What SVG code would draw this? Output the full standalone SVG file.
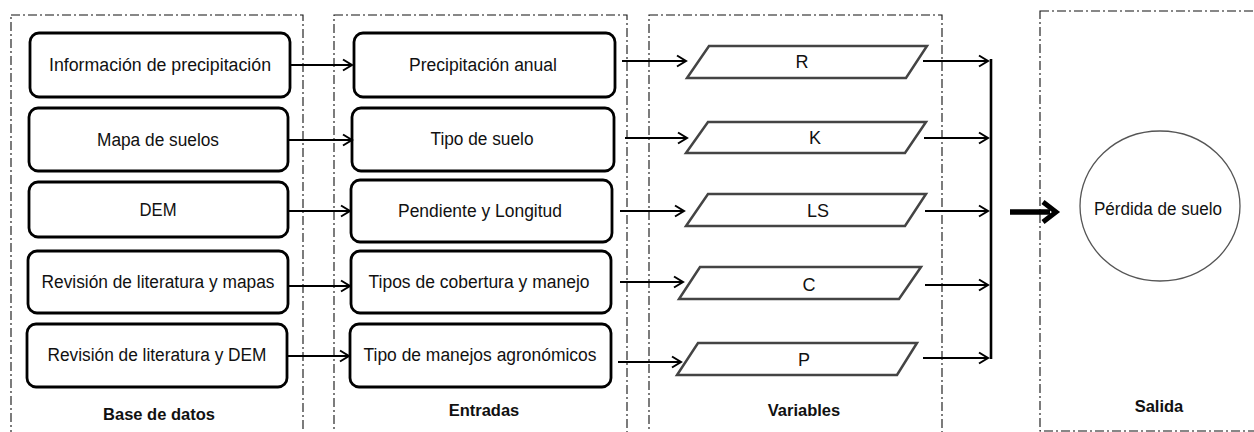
<svg xmlns="http://www.w3.org/2000/svg" width="1254" height="432" viewBox="0 0 1254 432">
<defs>
<style>
.frame{fill:none;stroke:#111;stroke-width:1.1;stroke-dasharray:9,3,2,3}
.box{fill:#fff;stroke:#000;stroke-width:2.8}
.para{fill:#fff;stroke:#444;stroke-width:2.5}
.t{font-family:"Liberation Sans",Arial,sans-serif;font-size:18px;fill:#111;text-anchor:middle;dominant-baseline:central}
.lbl{font-family:"Liberation Sans",Arial,sans-serif;font-size:16.5px;font-weight:bold;fill:#111;text-anchor:middle;dominant-baseline:central}
.arr{fill:none;stroke:#000;stroke-width:1.8;marker-end:url(#ah)}
</style>
<marker id="ah" markerUnits="userSpaceOnUse" markerWidth="14" markerHeight="14" viewBox="0 0 14 14" refX="12" refY="7" orient="auto">
<path d="M3,1.5 L12,7 L3,12.5" fill="none" stroke="#000" stroke-width="2"/>
</marker>
</defs>
<rect width="1254" height="432" fill="#fff"/>

<g id="frames">
<rect class="frame" x="11" y="15" width="292" height="430"/>
<rect class="frame" x="334" y="15" width="293" height="430"/>
<rect class="frame" x="649" y="15" width="293" height="430"/>
<rect class="frame" x="1040" y="11" width="230" height="420"/>
</g>

<g id="base">
<g id="b1"><rect class="box" x="30" y="33" width="260" height="64" rx="9"/><text class="t" x="160" y="65" textLength="222" lengthAdjust="spacingAndGlyphs">Información de precipitación</text></g>
<g id="b2"><rect class="box" x="29" y="108" width="259" height="63" rx="9"/><text class="t" x="158" y="140" textLength="122" lengthAdjust="spacingAndGlyphs">Mapa de suelos</text></g>
<g id="b3"><rect class="box" x="29" y="182" width="259" height="55" rx="9"/><text class="t" x="158" y="210" textLength="37" lengthAdjust="spacingAndGlyphs">DEM</text></g>
<g id="b4"><rect class="box" x="28" y="251" width="260" height="62" rx="9"/><text class="t" x="158" y="282" textLength="233" lengthAdjust="spacingAndGlyphs">Revisión de literatura y mapas</text></g>
<g id="b5"><rect class="box" x="27" y="324" width="260" height="63" rx="9"/><text class="t" x="157" y="355" textLength="219" lengthAdjust="spacingAndGlyphs">Revisión de literatura y DEM</text></g>
<text class="lbl" x="159" y="414">Base de datos</text>
</g>

<g id="entradas">
<g id="e1"><rect class="box" x="354" y="33" width="261" height="64" rx="9"/><text class="t" x="483" y="65" textLength="148" lengthAdjust="spacingAndGlyphs">Precipitación anual</text></g>
<g id="e2"><rect class="box" x="352" y="108" width="262" height="63" rx="9"/><text class="t" x="482" y="139" textLength="103" lengthAdjust="spacingAndGlyphs">Tipo de suelo</text></g>
<g id="e3"><rect class="box" x="351" y="180" width="261" height="62" rx="9"/><text class="t" x="480" y="211" textLength="164" lengthAdjust="spacingAndGlyphs">Pendiente y Longitud</text></g>
<g id="e4"><rect class="box" x="351" y="251" width="260" height="62" rx="9"/><text class="t" x="479" y="282" textLength="221" lengthAdjust="spacingAndGlyphs">Tipos de cobertura y manejo</text></g>
<g id="e5"><rect class="box" x="350" y="324" width="261" height="63" rx="9"/><text class="t" x="480" y="355" textLength="233" lengthAdjust="spacingAndGlyphs">Tipo de manejos agronómicos</text></g>
<text class="lbl" x="484" y="410">Entradas</text>
</g>

<g id="variables">
<g id="vR"><polygon class="para" points="709,46 927,46 906,78 687,78"/><text class="t" x="802" y="62">R</text></g>
<g id="vK"><polygon class="para" points="708,122 926,122 905,153 686,153"/><text class="t" x="815" y="138">K</text></g>
<g id="vLS"><polygon class="para" points="708,194 926,194 905,226 686,226"/><text class="t" x="818" y="211">LS</text></g>
<g id="vC"><polygon class="para" points="700,267 921,267 899,299 679,299"/><text class="t" x="809" y="285">C</text></g>
<g id="vP"><polygon class="para" points="698,343 917,343 897,375 677,375"/><text class="t" x="804" y="360">P</text></g>
<text class="lbl" x="804" y="410">Variables</text>
</g>

<g id="salida">
<ellipse cx="1160" cy="206" rx="80" ry="75" fill="#fff" stroke="#555" stroke-width="1.3"/>
<text class="t" x="1158" y="209" textLength="128" lengthAdjust="spacingAndGlyphs">Pérdida de suelo</text>
<text class="lbl" x="1159" y="406">Salida</text>
</g>

<g id="connectors">
<line class="arr" x1="290" y1="65" x2="352" y2="65"/>
<line class="arr" x1="288" y1="140" x2="352" y2="140"/>
<line class="arr" x1="288" y1="211" x2="350" y2="211"/>
<line class="arr" x1="287" y1="286" x2="350" y2="286"/>
<line class="arr" x1="288" y1="356" x2="349" y2="356"/>

<line class="arr" x1="622" y1="61" x2="686" y2="61"/>
<line class="arr" x1="625" y1="138" x2="687" y2="138"/>
<line class="arr" x1="620" y1="211" x2="684" y2="211"/>
<line class="arr" x1="620" y1="282" x2="683" y2="282"/>
<line class="arr" x1="618" y1="362" x2="681" y2="362"/>

<line class="arr" x1="923" y1="61" x2="988" y2="61"/>
<line class="arr" x1="924" y1="138" x2="988" y2="138"/>
<line class="arr" x1="925" y1="211" x2="988" y2="211"/>
<line class="arr" x1="925" y1="285" x2="988" y2="285"/>
<line class="arr" x1="923" y1="358" x2="988" y2="358"/>

<line x1="991" y1="59" x2="991" y2="359" stroke="#000" stroke-width="2.6"/>

<line x1="1010" y1="212" x2="1050" y2="212" stroke="#000" stroke-width="5.5"/>
<polyline points="1043,202 1056,212 1043,222" fill="none" stroke="#000" stroke-width="5" stroke-linejoin="miter"/>
</g>
</svg>
